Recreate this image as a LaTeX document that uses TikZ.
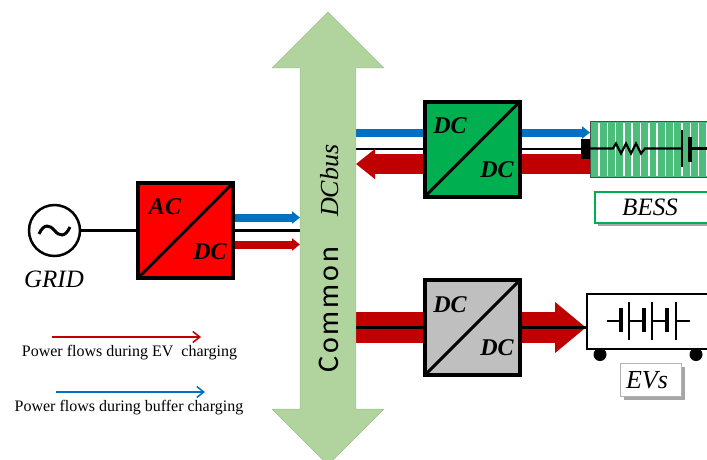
\documentclass[tikz,border=0pt]{standalone}
\usepackage{fontspec}
\setmainfont{Liberation Serif}
\newfontfamily\busfont[LetterSpace=10]{Carlito}
\usepackage{tikz}
\usetikzlibrary{arrows.meta,shapes.arrows,shadows,backgrounds}

\definecolor{busgreen}{HTML}{B1D49F}
\definecolor{bessgreen}{HTML}{4DBD7C}
\definecolor{convgreen}{HTML}{00B050}
\definecolor{convgrey}{HTML}{BFBFBF}
\definecolor{flowred}{HTML}{C00000}
\definecolor{flowblue}{HTML}{0070C0}

\tikzset{
	conv/.style={draw=black,line width=4pt,minimum size=95pt,inner sep=0pt},
	convtext/.style={font=\fontsize{24}{26}\selectfont\bfseries\itshape,inner sep=0pt},
	nametext/.style={font=\fontsize{25}{28}\selectfont\itshape,inner sep=0pt},
	legendtext/.style={font=\fontsize{16}{18}\selectfont,inner sep=0pt},
	wire/.style={draw=black,line width=2.2pt},
	blueflow/.style={draw=flowblue,line width=8pt,-{Triangle[length=8pt,width=12pt]}},
	redflow/.style={draw=flowred,line width=8pt,-{Triangle[length=8pt,width=12pt]}},
	legendred/.style={draw=flowred,line width=1.5pt,-{Straight Barb[length=7pt,width=11pt]}},
	legendblue/.style={draw=flowblue,line width=1.5pt,-{Straight Barb[length=7pt,width=11pt]}},
	plate/.style={draw=black,line width=4pt},
	thinplate/.style={draw=black,line width=2.6pt}
}

\begin{document}
\begin{tikzpicture}[x=1pt,y=-1pt]
	\useasboundingbox (0,0) rectangle (707,459);
	\clip (0,0) rectangle (707,459);

	\node[double arrow,rotate=90,fill=busgreen,draw=busgreen!90!black,line width=0.5pt,inner xsep=0pt,inner ysep=27.7pt,minimum height=453pt,double arrow head extend=28pt,double arrow tip angle=90] (bus) at (328,238.5) {};
	\node[rotate=90,anchor=base west,inner sep=0pt,font=\fontsize{30}{32}\selectfont\busfont] (buscommon) at (338,373) {Common};
	\node[rotate=90,anchor=base west,inner sep=0pt,font=\fontsize{26}{30}\selectfont\itshape] (busname) at (338,217) {DCbus};

	\coordinate (busleftblue) at (300,217.5);
	\coordinate (busleftwire) at (300,230.5);
	\coordinate (busleftred) at (300,244.5);
	\coordinate (busrightblue) at (356,132.5);
	\coordinate (busrightwire) at (356,149);
	\coordinate (busrightred) at (356,164);
	\coordinate (busrightev) at (356,327.5);

	% converters
	\node[conv,fill=red] (acdc) at (185.5,230.5) {};
	\node[conv,fill=convgreen] (dcbess) at (472.5,149) {};
	\node[conv,fill=convgrey] (dcev) at (472.5,327.5) {};
	\foreach \n in {acdc,dcbess,dcev}
		\draw[black,line width=3pt,shorten >=1.5pt,shorten <=1.5pt] (\n.south west) -- (\n.north east);

	% storage
	\node[draw=black!70,line width=1pt,fill=bessgreen,minimum width=140pt,minimum height=56pt,anchor=west,inner sep=0pt] (bess) at (590,149) {};
	\foreach \x in {599,607.3,...,707}
		\draw[white,line width=1.5pt] (\x,122.5) -- (\x,175.5);
	\coordinate (bessblue) at (590,132.5);
	\coordinate (bessred) at (590,164);
	\node[fill=black,minimum width=9pt,minimum height=20pt,inner sep=0pt] (bessplug) at (585.5,149) {};
	\coordinate (resin) at (613,148.5);
	\coordinate (resout) at (645,148.5);
	\coordinate (bessend) at (707,148.5);
	\draw[wire] (bessplug.east |- resin) -- (resin) -- (616,143.5) -- (621,153.5) -- (626,143.5) -- (631,153.5) -- (636,143.5) -- (641,153.5) -- (resout) -- (682,148.5);
	\draw[wire] (690,148.5) -- (bessend);
	\draw[thinplate] (682,130) -- (682,167);
	\draw[plate] (690,137) -- (690,162);

	% vehicle
	\node[draw=black,line width=1.5pt,fill=white,minimum width=140pt,minimum height=55pt,anchor=north west,inner sep=0pt] (ev) at (586,293) {};
	\node[circle,fill=black,minimum size=13pt,inner sep=0pt] (wheelleft) at (600,354.5) {};
	\node[circle,fill=black,minimum size=13pt,inner sep=0pt] (wheelright) at (696,354.5) {};
	\draw[wire] (607,321) -- (621,321);
	\draw[wire] (629,321) -- (644,321);
	\draw[wire] (652,321) -- (667,321);
	\draw[wire] (676,321) -- (690,321);
	\foreach \x in {621,644,667}
		\draw[plate] (\x,308) -- (\x,332);
	\foreach \x in {629,652,676}
		\draw[thinplate] (\x,302) -- (\x,340);

	% flows
	\begin{scope}[on background layer]
		\draw[blueflow] (acdc.east |- busleftblue) -- (busleftblue);
		\draw[redflow] (acdc.east |- busleftred) -- (busleftred);
		\draw[wire] (acdc.east) -- (busleftwire);
		\draw[blueflow] (busrightblue) -- (bessblue);
		\draw[wire] (busrightwire) -- (bessplug);
		\draw[draw=flowred,line width=20pt,-{Triangle[length=19pt,width=29pt]}] (bessred) -- (busrightred);
		\draw[draw=flowred,line width=31pt,-{Triangle[length=31pt,width=49pt]}] (busrightev) -- (ev.west |- busrightev);
		\draw[wire] (busrightev) -- (ev.west |- busrightev);
	\end{scope}

	% grid
	\node[circle,draw=black,line width=2.5pt,fill=white,minimum size=51pt,inner sep=0pt] (grid) at (54.5,230.5) {};
	\draw[black,line width=3pt] (39,234) .. controls (44,223) and (50,225) .. (54.5,230.5) .. controls (59,236) and (65,238) .. (70,227);
	\draw[wire] (grid) -- (acdc);
	\node[nametext] (gridname) at (54,279) {GRID};

	% labels
	\node[draw=convgreen,line width=2pt,fill=white,minimum width=140pt,minimum height=31pt,anchor=west,inner sep=0pt,drop shadow={shadow xshift=3pt,shadow yshift=-3pt,fill=black!35,opacity=1}] (besslabel) at (594,207) {};
	\node[nametext] (bessname) at (650,207) {BESS};
	\node[draw=black!30,line width=1.5pt,fill=white,minimum width=61pt,minimum height=33pt,inner sep=0pt,drop shadow={shadow xshift=3pt,shadow yshift=-3pt,fill=black!35,opacity=1}] (evlabel) at (651,380) {};
	\node[nametext,font=\fontsize{26}{28}\selectfont\itshape] (evname) at (647,380) {EVs};

	% legend
	\coordinate (legendredin) at (52,337);
	\coordinate (legendredout) at (201,337);
	\coordinate (legendbluein) at (56,392);
	\coordinate (legendblueout) at (205,392);
	\draw[legendred] (legendredin) -- (legendredout);
	\draw[legendblue] (legendbluein) -- (legendblueout);
	\node[legendtext] (legendredtext) at (129.5,353) {Power flows during EV~ charging};
	\node[legendtext] (legendbluetext) at (129,408) {Power flows during buffer charging};

	\node[convtext] at (165,207) {AC};
	\node[convtext] at (210,252) {DC};
	\node[convtext] at (450,126) {DC};
	\node[convtext] at (497,170) {DC};
	\node[convtext] at (450,305) {DC};
	\node[convtext] at (497,348) {DC};
\end{tikzpicture}
\end{document}
